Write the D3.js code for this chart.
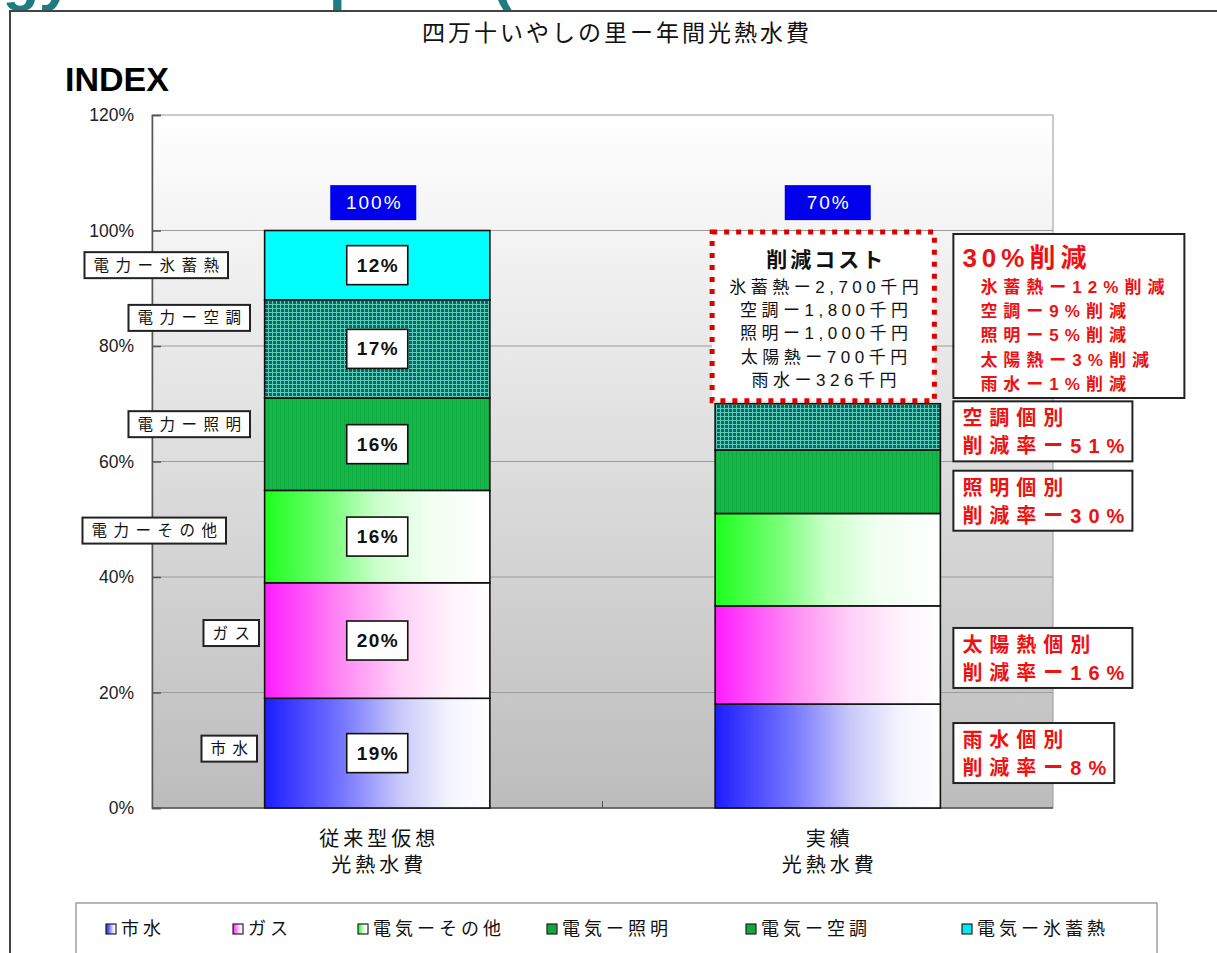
<!DOCTYPE html>
<html>
<head>
<meta charset="utf-8">
<script src="https://cdn.jsdelivr.net/npm/d3@7"></script>
<style>
  body { margin: 0; background: #fff; }
  svg { display: block; font-family: "Liberation Sans", "Noto Sans CJK JP", sans-serif; }
</style>
</head>
<body>
<svg id="chart" width="1217" height="953"></svg>
<script>
// ---- data ----
const categories = [["従来型仮想", "光熱水費"], ["実績", "光熱水費"]];
const seriesNames = ["市水", "ガス", "電気ーその他", "電気ー照明", "電気ー空調", "電気ー氷蓄熱"];
const conventionalValues = [19, 20, 16, 16, 17, 12];
const actualValues = [18, 17, 16, 11, 8, 0];
const yTickValues = [0, 20, 40, 60, 80, 100, 120];
const segmentTags = ["市水", "ガス", "電力ーその他", "電力ー照明", "電力ー空調", "電力ー氷蓄熱"];
const costTitle = "削減コスト";
const costLines = ["氷蓄熱ー2,700千円", "空調ー1,800千円", "照明ー1,000千円", "太陽熱ー700千円", "雨水ー326千円"];
const reductionTitle = "30%削減";
const reductionLines = ["氷蓄熱ー12%削減", "空調ー9%削減", "照明ー5%削減", "太陽熱ー3%削減", "雨水ー1%削減"];
const individualItems = ["空調", "照明", "太陽熱", "雨水"];
const individualRates = [51, 30, 16, 8];
const individualSeries = [4, 3, 1, 0];   // which stacked segment each note sits beside
const chartTitle = "四万十いやしの里ー年間光熱水費";

// ---- layout ----
const W = 1217, H = 953;
const plot = { left: 152, right: 1053, top: 115, bottom: 808 };
const svg = d3.select("#chart");
const defs = svg.append("defs");

const rows = [conventionalValues, actualValues].map((vals, i) => {
  const r = { idx: i };
  seriesNames.forEach((k, j) => r[k] = vals[j]);
  return r;
});
const stacked = d3.stack().keys(seriesNames)(rows);

const x = d3.scaleBand().domain([0, 1]).range([plot.left, plot.right])
  .paddingInner(0.5).paddingOuter(0.25);
const y = d3.scaleLinear().domain([0, 120]).range([plot.bottom, plot.top]);

// ---- fills ----
function hGrad(id, stops) {
  const g = defs.append("linearGradient").attr("id", id)
    .attr("x1", 0).attr("x2", 1).attr("y1", 0).attr("y2", 0);
  stops.forEach(([o, c]) => g.append("stop").attr("offset", o).attr("stop-color", c));
}
hGrad("gWater", [[0, "#1c1cff"], [0.35, "#7878ff"], [0.6, "#c8c8fa"], [0.82, "#f4f4ff"], [1, "#ffffff"]]);
hGrad("gGas", [[0, "#ff1cff"], [0.35, "#ff8cf4"], [0.6, "#ffd0f8"], [0.82, "#fff2fc"], [1, "#ffffff"]]);
hGrad("gOther", [[0, "#1cff1c"], [0.3, "#7cff7c"], [0.5, "#ccffcc"], [0.72, "#f0fff0"], [1, "#ffffff"]]);

const vg = defs.append("linearGradient").attr("id", "gPlot")
  .attr("x1", 0).attr("x2", 0).attr("y1", 0).attr("y2", 1);
vg.append("stop").attr("offset", 0).attr("stop-color", "#ffffff");
vg.append("stop").attr("offset", 1).attr("stop-color", "#bcbcbc");

// plaid for the air-conditioning share
const pat = defs.append("pattern").attr("id", "pPlaid")
  .attr("patternUnits", "userSpaceOnUse").attr("width", 4).attr("height", 4);
pat.append("rect").attr("width", 4).attr("height", 4).attr("fill", "#135f6d");
pat.append("rect").attr("width", 4).attr("height", 1).attr("fill", "#58cdb6");
pat.append("rect").attr("width", 1).attr("height", 4).attr("fill", "#58cdb6");

// faint vertical texture for the lighting share
const patL = defs.append("pattern").attr("id", "pLight")
  .attr("patternUnits", "userSpaceOnUse").attr("width", 4).attr("height", 4);
patL.append("rect").attr("width", 4).attr("height", 4).attr("fill", "#13b848");
patL.append("rect").attr("width", 1).attr("height", 4).attr("fill", "#10a940");

const fills = ["url(#gWater)", "url(#gGas)", "url(#gOther)", "url(#pLight)", "url(#pPlaid)", "#00ffff"];
const legendFills = ["url(#gWater)", "url(#gGas)", "url(#gOther)", "#10a838", "#10a838", "#00e8f0"];

// ---- page header and frame ----
svg.append("text").attr("x", -131).attr("y", -1)
  .attr("font-size", 60).attr("font-weight", "bold").attr("fill", "#1d7c7e")
  .text("Energy Consumption (");
svg.append("path").attr("d", `M10,${H} V11 H${W}`)
  .attr("fill", "none").attr("stroke", "#444").attr("stroke-width", 2);

svg.append("text").attr("x", 617).attr("y", 41).attr("text-anchor", "middle")
  .attr("font-size", 23).attr("letter-spacing", 3).attr("fill", "#111")
  .text(chartTitle);

svg.append("text").attr("x", 65).attr("y", 91)
  .attr("font-size", 34).attr("font-weight", "bold").attr("fill", "#000")
  .text("INDEX");

// ---- plot area ----
svg.append("rect").attr("x", plot.left).attr("y", plot.top)
  .attr("width", plot.right - plot.left).attr("height", plot.bottom - plot.top)
  .attr("fill", "url(#gPlot)").attr("stroke", "#999").attr("stroke-width", 1);

svg.append("g").selectAll("line").data(yTickValues.filter(d => d > 0 && d < 120)).join("line")
  .attr("x1", plot.left).attr("x2", plot.right)
  .attr("y1", d => y(d)).attr("y2", d => y(d))
  .attr("stroke", "#9c9c9c").attr("stroke-width", 1);

const yAxis = d3.axisLeft(y).tickValues(yTickValues).tickFormat(d => d + "%").tickSize(-9).tickPadding(18);
const ya = svg.append("g").attr("transform", `translate(${plot.left},0)`).call(yAxis);
ya.select(".domain").attr("stroke", "#555").attr("stroke-width", 1.5);
ya.selectAll(".tick line").attr("stroke", "#555").attr("stroke-width", 1.5);
ya.selectAll(".tick text").attr("font-size", 17.5).attr("fill", "#222")
  .attr("font-family", "Liberation Sans, sans-serif");

svg.append("line").attr("x1", plot.left).attr("x2", plot.right)
  .attr("y1", plot.bottom).attr("y2", plot.bottom).attr("stroke", "#555").attr("stroke-width", 1.5);
svg.append("line").attr("x1", (x(0) + x.bandwidth() + x(1)) / 2).attr("x2", (x(0) + x.bandwidth() + x(1)) / 2)
  .attr("y1", plot.bottom).attr("y2", plot.bottom - 7).attr("stroke", "#555");

// ---- stacked bars ----
const layers = svg.append("g").selectAll("g").data(stacked).join("g")
  .attr("fill", (d, i) => fills[i]);
layers.selectAll("rect").data(d => d.filter(p => p[1] - p[0] > 0)).join("rect")
  .attr("x", d => x(d.data.idx)).attr("width", x.bandwidth())
  .attr("y", d => y(d[1])).attr("height", d => y(d[0]) - y(d[1]))
  .attr("stroke", "#111").attr("stroke-width", 1.6);

// helper: boxed text centred on a point
function boxedLabel(g, cx, cy, txt, opt) {
  const ls = opt.ls || 0;
  const t = g.append("text").attr("x", cx + ls / 2).attr("y", cy)
    .attr("text-anchor", "middle").attr("dominant-baseline", "central")
    .attr("font-size", opt.size).attr("font-weight", opt.weight || "normal")
    .attr("letter-spacing", ls).attr("fill", opt.color || "#111")
    .text(txt);
  const bb = t.node().getBBox();
  const w = bb.width - ls + 2 * opt.padX, h = opt.h;
  g.insert("rect", "text").attr("x", cx - w / 2).attr("y", cy - h / 2)
    .attr("width", w).attr("height", h)
    .attr("fill", opt.fill || "#fff").attr("stroke", opt.stroke || "#111")
    .attr("stroke-width", opt.sw == null ? 1.5 : opt.sw);
  return t;
}

// value labels inside the conventional bar
const valueG = svg.append("g");
stacked.forEach((layer, i) => {
  const p = layer[0];
  const cx = x(0) + x.bandwidth() / 2;
  const cy = (y(p[0]) + y(p[1])) / 2;
  const g = valueG.append("g");
  boxedLabel(g, cx, cy, (p[1] - p[0]) + "%", { size: 19, weight: "bold", ls: 1.5, padX: 10, h: 39, sw: 1.6 });
});

// totals above each bar
const totals = [conventionalValues, actualValues].map(v => d3.sum(v));
totals.forEach((t, i) => {
  const g = svg.append("g");
  const cx = x(i) + x.bandwidth() / 2 + (i === 0 ? -4 : 0);
  const cy = y(105) + 1;
  g.append("rect").attr("x", cx - 43).attr("y", cy - 17.5).attr("width", 86).attr("height", 35)
    .attr("fill", "#0000ee");
  g.append("text").attr("x", cx + 1).attr("y", cy).attr("text-anchor", "middle")
    .attr("dominant-baseline", "central").attr("font-size", 19).attr("letter-spacing", 2)
    .attr("fill", "#fff").text(t + "%");
});

// segment name tags left of the first bar
const tagRight = [257, 259, 226, 250, 250, 228];
const tagShift = [-4.5, -7.5, -6, -20, -31, 0];
stacked.forEach((layer, i) => {
  const p = layer[0];
  const cy = (y(p[0]) + y(p[1])) / 2 + tagShift[i];
  const g = svg.append("g");
  const ls = 6.5;
  const t = g.append("text").attr("y", cy).attr("dominant-baseline", "central")
    .attr("font-size", 15.5).attr("letter-spacing", ls).attr("fill", "#111").text(segmentTags[i]);
  const w = t.node().getBBox().width - ls + 18;
  const left = tagRight[i] - w;
  t.attr("x", left + 9);
  g.insert("rect", "text").attr("x", left).attr("y", cy - 13).attr("width", w).attr("height", 26)
    .attr("fill", "#fff").attr("stroke", "#222").attr("stroke-width", 2);
});

// category labels
categories.forEach((lines, i) => {
  const t = svg.append("text").attr("text-anchor", "middle")
    .attr("font-size", 20).attr("letter-spacing", 4).attr("fill", "#111");
  lines.forEach((ln, k) => t.append("tspan")
    .attr("x", x(i) + x.bandwidth() / 2 + 2).attr("y", 846 + k * 26).text(ln));
});

// ---- cost-saving box (red dotted) ----
{
  const bx = x(1) - 3, bw = x.bandwidth() - 3;
  const top = y(100) + 1.5, bottom = y(actualValues.reduce((a, b) => a + b, 0)) - 3;
  svg.append("rect").attr("x", bx).attr("y", top).attr("width", bw).attr("height", bottom - top)
    .attr("fill", "#fff").attr("stroke", "#e00000").attr("stroke-width", 5)
    .attr("stroke-dasharray", "5,7");
  const cx = bx + bw / 2 + 3;
  svg.append("text").attr("x", cx).attr("y", top + 35).attr("text-anchor", "middle")
    .attr("font-size", 21).attr("font-weight", "bold").attr("letter-spacing", 3).attr("fill", "#111")
    .text(costTitle);
  costLines.forEach((ln, k) => svg.append("text").attr("x", cx).attr("y", top + 61 + k * 23.2)
    .attr("text-anchor", "middle").attr("font-size", 17).attr("letter-spacing", 4.5).attr("fill", "#111")
    .text(ln));
}

// ---- red notes right of the second bar ----
const noteLeft = x(1) + x.bandwidth() + 13;
{
  const top = 234, h = 164;
  svg.append("rect").attr("x", noteLeft).attr("y", top).attr("width", 231).attr("height", h)
    .attr("fill", "#fff").attr("stroke", "#222").attr("stroke-width", 2);
  svg.append("text").attr("x", noteLeft + 9).attr("y", top + 33)
    .attr("font-size", 26).attr("font-weight", "bold").attr("letter-spacing", 5).attr("fill", "#ee1111")
    .text(reductionTitle);
  reductionLines.forEach((ln, k) => svg.append("text").attr("x", noteLeft + 27).attr("y", top + 59 + k * 24.2)
    .attr("font-size", 17).attr("font-weight", "bold").attr("letter-spacing", 6).attr("fill", "#ee1111")
    .text(ln));
}
const noteShift = [4.5, 19, 3, -3];
individualItems.forEach((item, k) => {
  const p = stacked[individualSeries[k]][1];
  const cy = (y(p[0]) + y(p[1])) / 2 + noteShift[k];
  const g = svg.append("g");
  const t1 = g.append("text").attr("x", noteLeft + 9).attr("y", cy - 6)
    .attr("font-size", 20).attr("font-weight", "bold").attr("letter-spacing", 7).attr("fill", "#ee1111")
    .text(item + "個別");
  const t2 = g.append("text").attr("x", noteLeft + 9).attr("y", cy + 22)
    .attr("font-size", 20).attr("font-weight", "bold").attr("letter-spacing", 7).attr("fill", "#ee1111")
    .text("削減率ー" + individualRates[k] + "%");
  const w = Math.max(t1.node().getBBox().width, t2.node().getBBox().width) + 10;
  g.insert("rect", "text").attr("x", noteLeft).attr("y", cy - 30).attr("width", w).attr("height", 60)
    .attr("fill", "#fff").attr("stroke", "#222").attr("stroke-width", 2);
});

// ---- legend ----
svg.append("rect").attr("x", 76).attr("y", 903).attr("width", 1081).attr("height", 80)
  .attr("fill", "#fff").attr("stroke", "#888").attr("stroke-width", 1.2);
const legendX = [106, 233, 358, 547, 746, 962];
seriesNames.forEach((name, i) => {
  const g = svg.append("g").attr("transform", `translate(${legendX[i]},929)`);
  g.append("rect").attr("x", 0).attr("y", -5).attr("width", 10).attr("height", 10)
    .attr("fill", legendFills[i]).attr("stroke", "#222").attr("stroke-width", 1.2);
  g.append("text").attr("x", 15).attr("y", 0).attr("dominant-baseline", "central")
    .attr("font-size", 18).attr("letter-spacing", 4).attr("fill", "#111").text(name);
});
</script>
</body>
</html>
